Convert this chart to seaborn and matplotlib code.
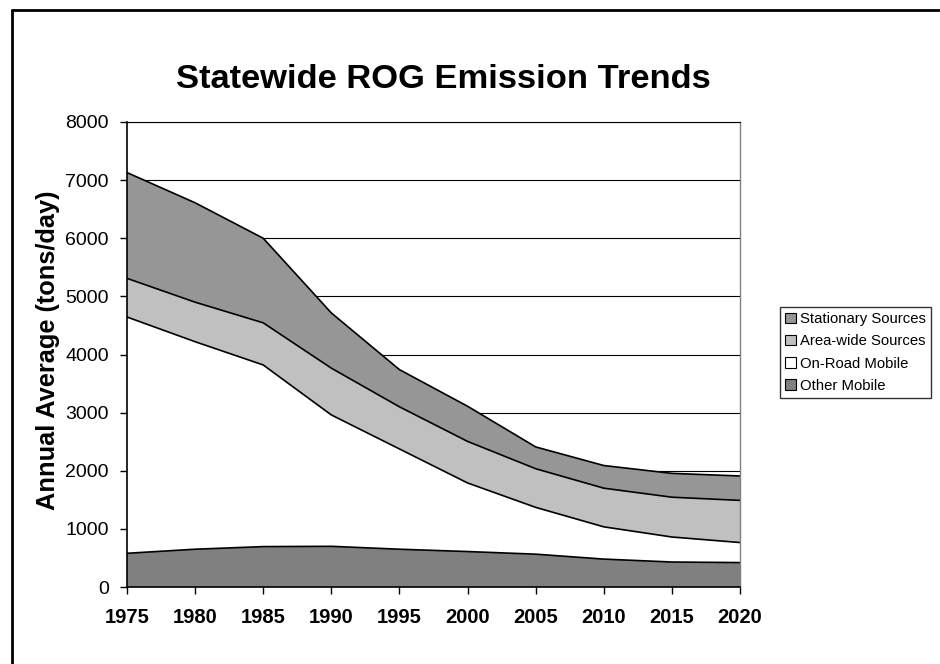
import numpy as np
import pandas as pd
import matplotlib
matplotlib.use("Agg")
import matplotlib.pyplot as plt
import seaborn as sns
from matplotlib.patches import Patch
from matplotlib.lines import Line2D

# ---- data (tons/day, annual average) ----
years = [1975, 1980, 1985, 1990, 1995, 2000, 2005, 2010, 2015, 2020]
other_mobile = [580, 650, 695, 700, 650, 610, 565, 480, 430, 420]
on_road_mobile = [4065, 3570, 3125, 2260, 1725, 1180, 805, 555, 430, 345]
area_wide = [665, 680, 725, 805, 725, 715, 665, 665, 685, 725]
stationary = [1820, 1710, 1455, 950, 640, 605, 375, 390, 410, 420]

series_names = ["Other Mobile", "On-Road Mobile", "Area-wide Sources", "Stationary Sources"]
series_colors = ["#808080", "#FFFFFF", "#C0C0C0", "#969696"]
y_ticks = [0, 1000, 2000, 3000, 4000, 5000, 6000, 7000, 8000]

df = pd.DataFrame({
    "Year": years,
    "Other Mobile": other_mobile,
    "On-Road Mobile": on_road_mobile,
    "Area-wide Sources": area_wide,
    "Stationary Sources": stationary,
})

sns.set_theme(style="white")
plt.rcParams["font.family"] = ["Liberation Sans", "DejaVu Sans"]
plt.rcParams["text.color"] = "black"
plt.rcParams["axes.labelcolor"] = "black"
plt.rcParams["xtick.color"] = "black"
plt.rcParams["ytick.color"] = "black"

fig = plt.figure(figsize=(9.4, 6.64), dpi=100)
ax = fig.add_axes([127 / 940, 1 - 587 / 664, (740 - 127) / 940, (587 - 122) / 664])

base = np.zeros(len(years))
for name, col in zip(series_names, series_colors):
    top = base + df[name].to_numpy()
    ax.fill_between(df["Year"], base, top, facecolor=col, edgecolor="none", zorder=2)
    sns.lineplot(x=df["Year"], y=top, ax=ax, color="black", linewidth=1.2, zorder=3)
    base = top

ax.set_xlim(years[0], years[-1])
ax.set_ylim(0, 8000)
ax.set_xticks(years)
ax.set_xticklabels([str(y) for y in years], fontsize=14.5, fontweight="bold")
ax.set_yticks(y_ticks)
ax.set_yticklabels([str(v) for v in y_ticks], fontsize=14)
ax.set_xlabel("")
ax.set_ylabel("")
ax.tick_params(axis="both", which="both", bottom=True, left=True, direction="out",
               length=5, width=1, color="black", labelcolor="black")
ax.tick_params(axis="x", pad=10)
ax.tick_params(axis="y", pad=8)

ax.set_axisbelow(True)
ax.yaxis.grid(True, color="black", linewidth=0.8)
ax.xaxis.grid(False)

for s in ["left", "bottom"]:
    ax.spines[s].set_color("black")
    ax.spines[s].set_linewidth(1.2)
ax.spines["top"].set_color("black")
ax.spines["top"].set_linewidth(0.8)
ax.spines["right"].set_color("#808080")
ax.spines["right"].set_linewidth(1.0)
for s in ax.spines.values():
    s.set_zorder(4)

fig.text(443 / 940, 1 - 79 / 664, "Statewide ROG Emission Trends",
         ha="center", va="center", fontsize=24.8, fontweight="bold", color="black")
fig.text(48 / 940, 1 - 350 / 664, "Annual Average (tons/day)",
         ha="center", va="center", rotation=90, fontsize=18.3, fontweight="bold",
         color="black")

handles = [Patch(facecolor=c, edgecolor="black", linewidth=0.8, label=n)
           for n, c in zip(series_names, series_colors)][::-1]
leg = fig.legend(handles=handles, loc="upper left",
                 bbox_to_anchor=(780 / 940, 1 - 307 / 664), fontsize=10.7,
                 frameon=True, fancybox=False, edgecolor="black",
                 handlelength=0.7, handleheight=0.7, handletextpad=0.3,
                 labelspacing=0.55, borderpad=0.35, borderaxespad=0)
leg.get_frame().set_linewidth(1.0)

fig.add_artist(Line2D([12 / 940, 12 / 940], [0, 1 - 10 / 664], color="black",
                      linewidth=2, transform=fig.transFigure))
fig.add_artist(Line2D([12 / 940, 1], [1 - 10 / 664, 1 - 10 / 664], color="black",
                      linewidth=2, transform=fig.transFigure))

fig.savefig("out.png", dpi=100, facecolor="white")
